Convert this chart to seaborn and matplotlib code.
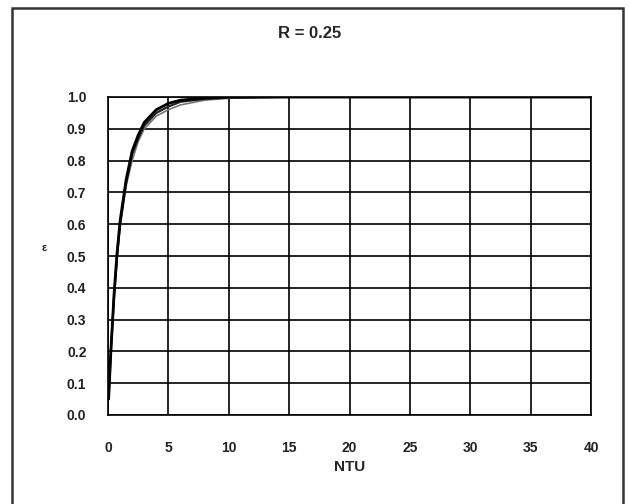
import numpy as np
import pandas as pd
import matplotlib
matplotlib.use("Agg")
import matplotlib.pyplot as plt
import seaborn as sns

# values
ntu = [0.05, 0.15, 0.25, 0.5, 0.75, 1.0, 1.5, 2.0, 2.5, 3.0, 4.0, 5.0, 6.0, 8.0, 10.0, 15.0, 20.0, 30.0, 40.0]
eps_a = [0.05, 0.13, 0.21, 0.38, 0.51, 0.61, 0.74, 0.83, 0.88, 0.92, 0.96, 0.98, 0.99, 0.997, 1.0, 1.0, 1.0, 1.0, 1.0]
eps_b = [0.05, 0.13, 0.21, 0.37, 0.50, 0.60, 0.73, 0.82, 0.87, 0.91, 0.95, 0.97, 0.985, 0.994, 0.998, 1.0, 1.0, 1.0, 1.0]
eps_c = [0.05, 0.13, 0.21, 0.37, 0.49, 0.59, 0.72, 0.80, 0.86, 0.90, 0.94, 0.96, 0.975, 0.99, 0.996, 1.0, 1.0, 1.0, 1.0]

series = {"a": eps_a, "b": eps_b, "c": eps_c}
colors = {"a": "#000000", "b": "#222222", "c": "#777777"}
widths = {"a": 2.0, "b": 1.6, "c": 1.2}

df = pd.concat(
    [pd.DataFrame({"NTU": ntu, "eps": v, "curve": k}) for k, v in series.items()],
    ignore_index=True,
)

sns.set_style("white")
plt.rcParams["font.family"] = ["Liberation Sans", "DejaVu Sans"]

fig = plt.figure(figsize=(6.29, 5.04), dpi=100)
ax = fig.add_axes([108 / 629, 1 - 415 / 504, (591 - 108) / 629, (415 - 97) / 504])

for k in ["c", "b", "a"]:
    sns.lineplot(data=df[df["curve"] == k], x="NTU", y="eps", ax=ax,
                 color=colors[k], linewidth=widths[k], legend=False)

ax.set_xlim(0, 40)
ax.set_ylim(0, 1.0)
ax.set_xticks(np.arange(0, 41, 5))
ax.set_yticks(np.arange(0, 1.01, 0.1))
ax.set_yticklabels([f"{v:.1f}" for v in np.arange(0, 1.01, 0.1)])
ax.grid(True, color="black", linewidth=1.2)
ax.set_axisbelow(True)
for s in ax.spines.values():
    s.set_color("black")
    s.set_linewidth(1.2)
ax.tick_params(axis="both", direction="inout", length=7, width=1.2,
               labelsize=10, colors="black")
ax.tick_params(axis="x", pad=15)
ax.tick_params(axis="y", pad=12)
for lbl in ax.get_xticklabels() + ax.get_yticklabels():
    lbl.set_fontweight("bold")
    lbl.set_color("#222222")

ax.set_xlabel("NTU", fontsize=11, fontweight="bold", labelpad=4)
ax.set_ylabel("")
fig.text(44 / 629, 1 - 248 / 504, "ε", fontsize=8, fontweight="bold",
         ha="center", va="center")

fig.text(310 / 629, 1 - 34 / 504, "R = 0.25", fontsize=12, fontweight="bold",
         ha="center", va="center")

# outer chart frame
frame = plt.Rectangle((12 / 629, -0.05), (623 - 12) / 629, 1.05 - 8 / 504,
                      transform=fig.transFigure, fill=False,
                      edgecolor="#333333", linewidth=1.8)
fig.patches.append(frame)

fig.savefig("out.png", dpi=100)
